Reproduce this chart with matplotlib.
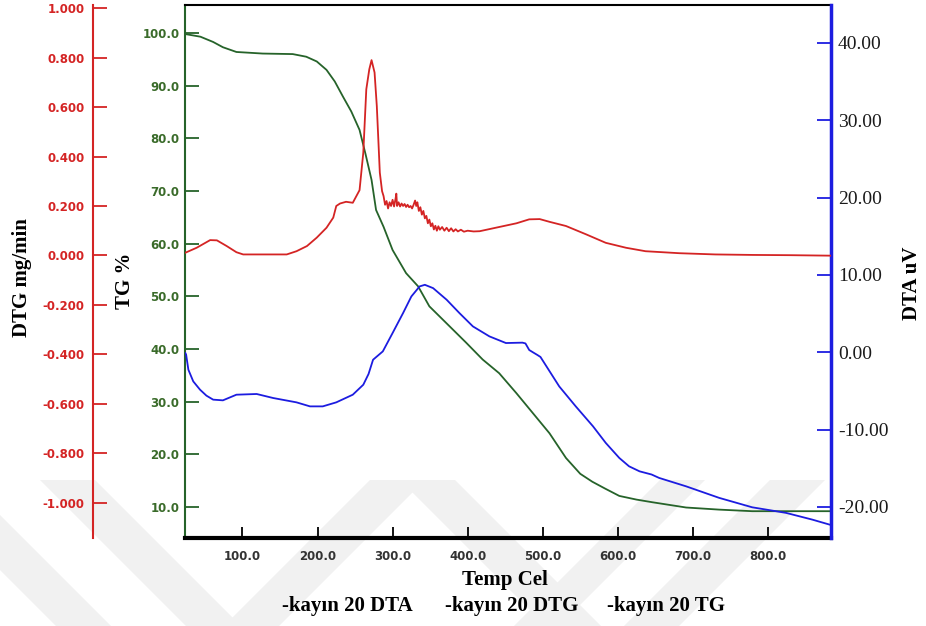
import numpy as np
import matplotlib.pyplot as plt
from matplotlib.patches import Polygon
from matplotlib.ticker import FormatStrFormatter

plt.rcParams['axes.unicode_minus'] = False

# TG curve (%)
tg_temp = [24, 44, 61, 74, 92, 127, 167, 185, 199, 212, 223, 234, 245, 256, 264,
           272, 278, 288, 300, 318, 334, 349, 376, 398, 420, 442, 465, 487, 509,
           531, 550, 566, 583, 602, 625, 646, 691, 735, 779, 830, 885]
tg_val = [99.8, 99.3, 98.3, 97.3, 96.4, 96.1, 96.0, 95.5, 94.6, 93.0, 90.8, 87.9,
          85.1, 81.6, 77.0, 72.1, 66.4, 63.2, 58.8, 54.4, 51.9, 48.1, 44.3, 41.2,
          38.0, 35.4, 31.6, 27.8, 24.0, 19.3, 16.3, 14.8, 13.5, 12.1, 11.4, 10.9,
          9.9, 9.5, 9.2, 9.2, 9.2]

# DTG curve (mg/min)
dtg_temp = [24, 39, 57, 66, 79, 92, 101, 159, 172, 186, 199, 212, 221, 225, 230,
            238, 247, 256, 261, 265, 269, 272, 276, 279, 281, 283, 286,
            288, 290, 292, 294, 296, 298, 300, 302, 304, 305, 306, 308, 310, 312,
            314, 316, 318, 320, 322, 324, 326, 328, 330, 331.5, 333, 335, 337,
            339, 341, 343, 345, 347, 349, 351, 353, 355, 357, 359, 361, 363, 366,
            369, 372, 375, 378, 381, 384, 387, 391, 395, 400, 408, 416, 442, 465,
            482, 496, 509, 531, 558, 584, 611, 637, 682, 730, 780, 830, 885]
dtg_val = [0.011, 0.031, 0.062, 0.061, 0.038, 0.013, 0.004, 0.004, 0.017, 0.038,
           0.072, 0.112, 0.153, 0.200, 0.210, 0.217, 0.213, 0.264, 0.416, 0.672,
           0.753, 0.790, 0.740, 0.604, 0.470, 0.335, 0.260,
           0.240, 0.205, 0.220, 0.190, 0.215, 0.200, 0.225, 0.198, 0.230, 0.250,
           0.200, 0.215, 0.198, 0.210, 0.200, 0.208, 0.196, 0.205, 0.195, 0.200,
           0.190, 0.205, 0.222, 0.200, 0.215, 0.180, 0.195, 0.165, 0.180, 0.150,
           0.160, 0.130, 0.145, 0.118, 0.130, 0.105, 0.120, 0.100, 0.118, 0.104,
           0.115, 0.100, 0.112, 0.098, 0.110, 0.097, 0.106, 0.097, 0.104, 0.096,
           0.100, 0.097, 0.098, 0.115, 0.130, 0.146, 0.147, 0.136, 0.119, 0.085,
           0.051, 0.031, 0.017, 0.009, 0.004, 0.002, 0.001, -0.001]

# DTA curve (uV)
dta_temp = [24, 25, 28, 34.5, 43.5, 52, 61, 74, 92, 119, 141, 172, 190, 207, 225,
            247, 261, 268, 274, 287, 300, 314, 325, 336, 343, 354, 372, 389, 407,
            429, 451, 473, 477, 482, 487, 493, 497, 505, 522, 544, 567, 584, 602,
            615, 629, 645, 655, 691, 735, 779, 824, 859, 885]
dta_val = [-0.1, -0.3, -2.25, -3.76, -4.83, -5.6, -6.12, -6.21, -5.48, -5.39,
           -5.91, -6.47, -6.99, -6.99, -6.47, -5.48, -4.19, -2.8, -0.96, 0.12,
           2.49, 5.08, 7.22, 8.52, 8.73, 8.30, 6.80, 5.08, 3.35, 2.06, 1.2, 1.25,
           1.15, 0.3, 0.0, -0.35, -0.6, -1.82, -4.41, -6.99, -9.57, -11.72,
           -13.66, -14.74, -15.39, -15.8, -16.24, -17.33, -18.82, -20.04, -20.76,
           -21.63, -22.36]

temp_ticks = [100, 200, 300, 400, 500, 600, 700, 800]
tg_ticks = [10, 20, 30, 40, 50, 60, 70, 80, 90, 100]
dta_ticks = [-20, -10, 0, 10, 20, 30, 40]
dtg_ticks = [-1.0, -0.8, -0.6, -0.4, -0.2, 0.0, 0.2, 0.4, 0.6, 0.8, 1.0]

RED = '#d42424'
GREEN = '#26632a'
BLUE = '#1c1ce0'

W, H = 926, 626
fig = plt.figure(figsize=(W / 100, H / 100), dpi=100)


def fx(px):
    return px / W


def fy(py):
    return 1 - py / H


# faint diagonal background stripes
stripes = [
    [(-90, 480), (-35, 480), (111, 626), (56, 626)],
    [(40, 480), (95, 480), (241, 626), (186, 626)],
    [(370, 480), (425, 480), (279, 626), (224, 626)],
    [(400, 480), (455, 480), (601, 626), (546, 626)],
    [(660, 480), (705, 480), (559, 626), (514, 626)],
    [(770, 480), (825, 480), (679, 626), (624, 626)],
]
for pts in stripes:
    fig.add_artist(Polygon([(fx(x), fy(y)) for x, y in pts], closed=True,
                           transform=fig.transFigure, facecolor='#f1f1f1',
                           edgecolor='none', zorder=-5))

ax = fig.add_axes([fx(185), fy(538), fx(646), 533 / H])
ax_dta = ax.twinx()
ax_dtg = ax.twinx()
for a in (ax, ax_dta, ax_dtg):
    a.set_facecolor('none')

# TG on the main axes
ax.plot(tg_temp, tg_val, color=GREEN, lw=1.3, zorder=3)
ax.set_xlim(23.5, 884)
ax.set_ylim(4.11, 105.32)
ax.set_xticks(temp_ticks)
ax.set_yticks(tg_ticks)
ax.xaxis.set_major_formatter(FormatStrFormatter('%.1f'))
ax.yaxis.set_major_formatter(FormatStrFormatter('%.1f'))
ax.tick_params(axis='x', direction='in', length=8, width=1.3, color='black',
               labelsize=8.5, labelcolor='#333333', pad=9)
ax.tick_params(axis='y', direction='in', length=10, width=1.3, color=GREEN,
               labelsize=8.5, labelcolor='#3a6b2a', pad=4)
for lab in ax.get_xticklabels() + ax.get_yticklabels():
    lab.set_fontweight('bold')
ax.spines['left'].set_color(GREEN)
ax.spines['left'].set_linewidth(1.5)
ax.spines['bottom'].set_color('black')
ax.spines['bottom'].set_linewidth(3)
ax.spines['top'].set_color('black')
ax.spines['top'].set_linewidth(1.5)
ax.spines['right'].set_visible(False)

# DTA on the right
ax_dta.plot(dta_temp, dta_val, color=BLUE, lw=1.3, zorder=4)
ax_dta.set_ylim(-24.01, 44.91)
ax_dta.set_yticks(dta_ticks)
ax_dta.yaxis.set_major_formatter(FormatStrFormatter('%.2f'))
ax_dta.tick_params(axis='y', direction='in', length=10, width=1.3, color=BLUE,
                   labelsize=14, labelcolor='#1a1a1a', pad=5)
for lab in ax_dta.get_yticklabels():
    lab.set_fontfamily('Liberation Serif')
ax_dta.spines['right'].set_color(BLUE)
ax_dta.spines['right'].set_linewidth(2.5)
for s in ('left', 'top', 'bottom'):
    ax_dta.spines[s].set_visible(False)

# DTG on an offset left spine
ax_dtg.plot(dtg_temp, dtg_val, color=RED, lw=1.3, zorder=2)
ax_dtg.set_ylim(-1.143, 1.013)
ax_dtg.yaxis.set_ticks_position('left')
ax_dtg.yaxis.set_label_position('left')
ax_dtg.spines['left'].set_position(('axes', (93 - 185) / 646))
ax_dtg.spines['left'].set_visible(True)
ax_dtg.spines['left'].set_color(RED)
ax_dtg.spines['left'].set_linewidth(1.5)
for s in ('right', 'top', 'bottom'):
    ax_dtg.spines[s].set_visible(False)
ax_dtg.set_yticks(dtg_ticks)
ax_dtg.yaxis.set_major_formatter(FormatStrFormatter('%.3f'))
ax_dtg.tick_params(axis='y', direction='in', length=10, width=1.3, color=RED,
                   labelsize=8.5, labelcolor=RED, pad=6)
for lab in ax_dtg.get_yticklabels():
    lab.set_fontweight('bold')

label_font = dict(family='Liberation Serif', fontweight='bold', fontsize=15)
fig.text(fx(22), fy(278), 'DTG mg/min', rotation=90, ha='center', va='center', **label_font)
fig.text(fx(125), fy(281), 'TG %', rotation=90, ha='center', va='center', **label_font)
fig.text(fx(912), fy(283), 'DTA uV', rotation=90, ha='center', va='center', **label_font)
fig.text(fx(505), fy(580), 'Temp Cel', ha='center', va='center', **label_font)

series_names = ['-kayın 20 DTA', '-kayın 20 DTG', '-kayın 20 TG']
for name, px in zip(series_names, [282, 445, 607]):
    fig.text(fx(px), fy(606), name, ha='left', va='center', **label_font)

fig.savefig('out.png', dpi=100)
